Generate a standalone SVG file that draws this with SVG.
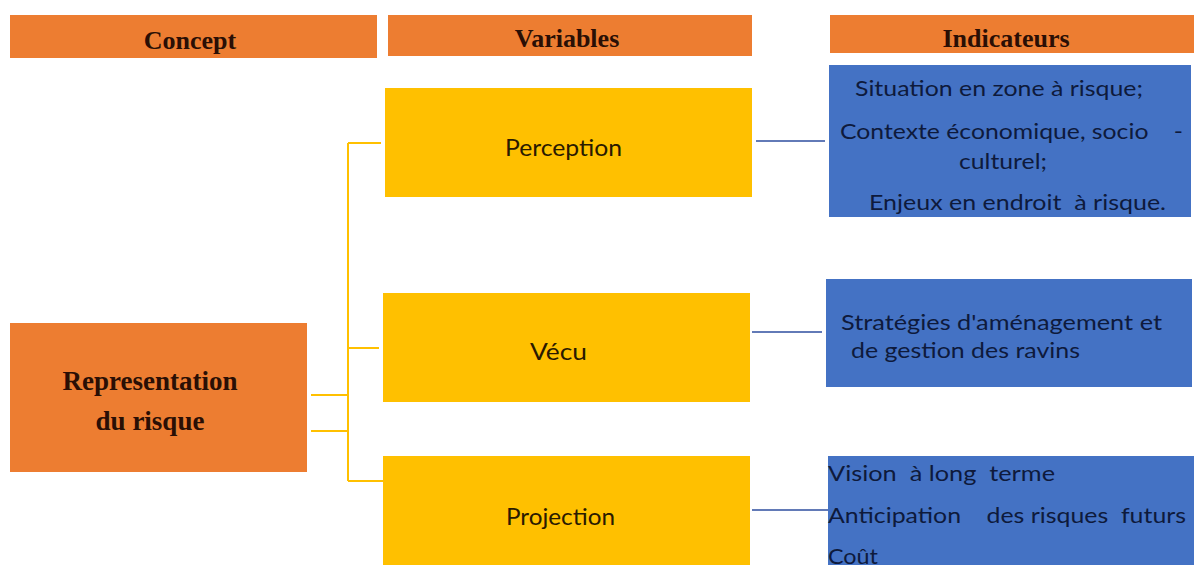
<svg xmlns="http://www.w3.org/2000/svg" width="1194" height="567" viewBox="0 0 1194 567">
<style>
.hdr{fill:#ED7D31}
.hdrt{font-family:"Liberation Serif",serif;font-weight:bold;font-size:26px;fill:#2a0f05;text-anchor:middle}
.var{fill:#FFC000}
.vart{font-family:Lato,"Open Sans",sans-serif;font-size:23px;fill:#2a1a00}
.ind{fill:#4472C4}
.indt{font-family:Lato,"Open Sans",sans-serif;font-size:22px;fill:#0e1a3c}
.yl{stroke:#FFC000;stroke-width:2;fill:none}
.bl{stroke:#2F4FA0;stroke-width:1.5;fill:none}
</style>
<rect width="1194" height="567" fill="#ffffff"/>
<g id="header-concept"><rect class="hdr" x="10" y="15" width="367" height="43"/><text class="hdrt" x="190" y="49">Concept</text></g>
<g id="header-variables"><rect class="hdr" x="388" y="15" width="364" height="41"/><text class="hdrt" x="567" y="47">Variables</text></g>
<g id="header-indicateurs"><rect class="hdr" x="830" y="15" width="364" height="38"/><text class="hdrt" x="1006" y="47">Indicateurs</text></g>
<g id="concept"><rect class="hdr" x="10" y="323" width="297" height="149"/>
<text class="hdrt" style="font-size:27px" x="150" y="390">Representation</text>
<text class="hdrt" style="font-size:27px" x="150" y="430">du risque</text></g>
<g id="perception"><rect class="var" x="385" y="88" width="367" height="109"/><text class="vart" x="505" y="156" textLength="117" lengthAdjust="spacingAndGlyphs">Perception</text></g>
<g id="vecu"><rect class="var" x="383" y="293" width="367" height="109"/><text class="vart" x="530" y="360" textLength="57" lengthAdjust="spacingAndGlyphs">Vécu</text></g>
<g id="projection"><rect class="var" x="383" y="456" width="367" height="109"/><text class="vart" x="506" y="525" textLength="109" lengthAdjust="spacingAndGlyphs">Projection</text></g>
<g id="ind-perception"><rect class="ind" x="829" y="65" width="362" height="152"/>
<text class="indt" x="855" y="96" textLength="288" lengthAdjust="spacingAndGlyphs">Situation en zone à risque;</text>
<text class="indt" x="840" y="139" textLength="343" lengthAdjust="spacingAndGlyphs" xml:space="preserve">Contexte économique, socio    -</text>
<text class="indt" x="959" y="169" textLength="88" lengthAdjust="spacingAndGlyphs">culturel;</text>
<text class="indt" x="869" y="210" textLength="297" lengthAdjust="spacingAndGlyphs" xml:space="preserve">Enjeux en endroit  à risque.</text></g>
<g id="ind-vecu"><rect class="ind" x="826" y="279" width="366" height="108"/>
<text class="indt" x="841" y="330" textLength="321" lengthAdjust="spacingAndGlyphs">Stratégies d'aménagement et</text>
<text class="indt" x="851" y="358" textLength="229" lengthAdjust="spacingAndGlyphs">de gestion des ravins</text></g>
<g id="ind-projection"><rect class="ind" x="828" y="456" width="366" height="109"/>
<text class="indt" x="828" y="481" textLength="227" lengthAdjust="spacingAndGlyphs" xml:space="preserve">Vision  à long  terme</text>
<text class="indt" x="828" y="523" textLength="358" lengthAdjust="spacingAndGlyphs" xml:space="preserve">Anticipation    des risques  futurs</text>
<text class="indt" x="828" y="564" textLength="50" lengthAdjust="spacingAndGlyphs">Coût</text></g>
<g id="connectors">
<path class="yl" d="M348 143V481M348 143H381M348 348H379M348 481H383M311 395H348M311 431H348"/>
<path class="bl" d="M756 141H825M752 332H822M752 510H828"/>
</g>
</svg>
